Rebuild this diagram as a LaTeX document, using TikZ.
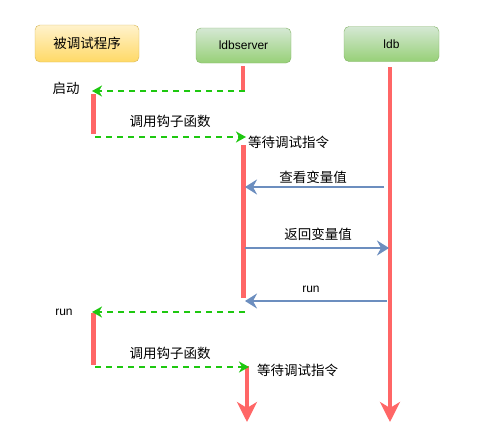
\documentclass[tikz,border=0pt]{standalone}
\usepackage{fontspec}
\setmainfont{Liberation Sans}
\newfontfamily\cjk{Noto Sans CJK SC}
\usetikzlibrary{arrows.meta}
\definecolor{lred}{HTML}{FF6666}
\definecolor{lgreen}{HTML}{1EC810}
\definecolor{lblue}{HTML}{6C8EBF}
\definecolor{ybord}{HTML}{D6B656}
\definecolor{gbord}{HTML}{82B366}
\tikzset{
  ybox/.style={draw=ybord, rounded corners=5pt, top color={rgb,255:red,255;green,242;blue,204}, bottom color={rgb,255:red,255;green,217;blue,102}, minimum width=104pt, minimum height=37pt, font=\cjk\fontsize{13.5}{15}\selectfont},
  gbox/.style={draw=gbord, rounded corners=5pt, top color={rgb,255:red,213;green,232;blue,212}, bottom color={rgb,255:red,151;green,208;blue,119}, minimum width=95pt, minimum height=35pt, font=\fontsize{12}{14}\selectfont},
  lifeline/.style={draw=lred, line width=4pt},
  endline/.style={draw=lred, line width=4pt, -{Stealth[length=20pt,width=20pt,inset=6pt]}},
  actbar/.style={draw=lred, line width=5pt},
  msg/.style={draw=lgreen, line width=2pt, dash pattern=on 6pt off 5pt, -{Stealth[length=10pt,width=11pt,inset=3pt]}},
  call/.style={draw=lblue, line width=2.8pt, -{Stealth[length=12pt,width=15pt,inset=4pt]}},
  cjklab/.style={font=\cjk\fontsize{13.5}{15}\selectfont, inner sep=0pt},
  latlab/.style={font=\fontsize{12}{14}\selectfont, inner sep=0pt}
}
\begin{document}
\begin{tikzpicture}[x=1pt,y=-1pt]
\useasboundingbox (0,0) rectangle (483,439);
% header boxes
\node[ybox] (prog) at (87,43.5) {被调试程序};
\node[gbox] (srv) at (243.5,45.5) {ldbserver};
\node[gbox] (ldb) at (391.5,44) {ldb};
% lifeline coordinates
\coordinate (s0) at (243,66);
\coordinate (s1) at (243,90);
\coordinate (s2) at (243,145);
\coordinate (s3) at (243,298);
\coordinate (s4) at (247,366);
\coordinate (s5) at (247,422);
\coordinate (d0) at (390,67);
\coordinate (d1) at (390,422);
\coordinate (p0) at (93,94);
\coordinate (p1) at (93,134);
\coordinate (p2) at (93,313);
\coordinate (p3) at (93,365);
\draw[lifeline] (s0) -- (s1);
\draw[actbar] (s2) -- (s3);
\draw[endline] (s4) -- (s5);
\draw[endline] (d0) -- (d1);
\draw[actbar] (p0) -- (p1);
\draw[actbar] (p2) -- (p3);
% message coordinates
\coordinate (m1a) at (245,91);
\coordinate (m1b) at (92,91);
\coordinate (m2a) at (95,137);
\coordinate (m2b) at (246,137);
\coordinate (m3a) at (384,187);
\coordinate (m3b) at (245,187);
\coordinate (m4a) at (245,248);
\coordinate (m4b) at (389,248);
\coordinate (m5a) at (387,301);
\coordinate (m5b) at (245,301);
\coordinate (m6a) at (245,312);
\coordinate (m6b) at (92,312);
\coordinate (m7a) at (95,367);
\coordinate (m7b) at (249,367);
\draw[msg] (m1a) -- (m1b);
\draw[msg] (m2a) -- (m2b);
\draw[call] (m3a) -- (m3b);
\draw[call] (m4a) -- (m4b);
\draw[call] (m5a) -- (m5b);
\draw[msg] (m6a) -- (m6b);
\draw[msg] (m7a) -- (m7b);
% labels
\node[cjklab] (t1) at (66,88) {启动};
\node[cjklab] (t2) at (170,121) {调用钩子函数};
\node[cjklab, anchor=west] (t3) at (248,142) {等待调试指令};
\node[cjklab] (t4) at (313,177) {查看变量值};
\node[cjklab] (t5) at (318,234) {返回变量值};
\node[latlab] (t6) at (311,289) {run};
\node[latlab] (t7) at (64,312) {run};
\node[cjklab] (t8) at (170,353) {调用钩子函数};
\node[cjklab, anchor=west] (t9) at (257,370) {等待调试指令};
\end{tikzpicture}
\end{document}
